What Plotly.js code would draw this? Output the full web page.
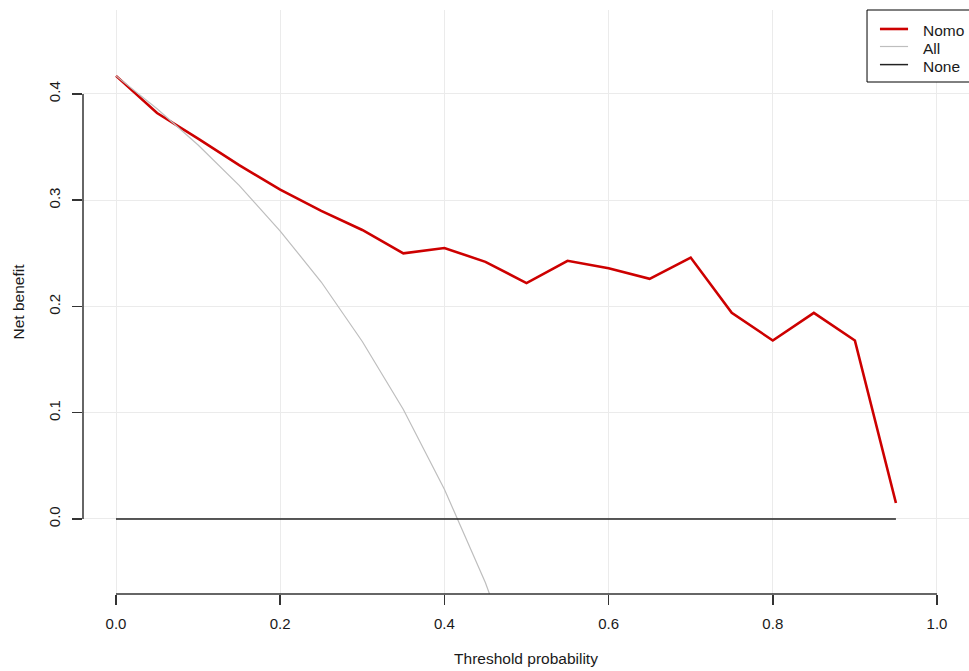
<!DOCTYPE html>
<html>
<head>
<meta charset="utf-8">
<script src="https://cdn.plot.ly/plotly-3.0.1.min.js"></script>
<style>html,body{margin:0;padding:0;background:#fff;overflow:hidden;}#chart{width:969px;height:671px;}</style>
</head>
<body>
<div id="chart"></div>
<script>
// Threshold probabilities
var thresholds = [0, 0.05, 0.1, 0.15, 0.2, 0.25, 0.3, 0.35, 0.4, 0.45, 0.5, 0.55, 0.6, 0.65, 0.7, 0.75, 0.8, 0.85, 0.9, 0.95];
// Net benefit of the nomogram model
var nomoNB = [0.417, 0.382, 0.358, 0.333, 0.310, 0.290, 0.272, 0.250, 0.255, 0.242, 0.222, 0.243, 0.236, 0.226, 0.246, 0.194, 0.168, 0.194, 0.168, 0.015];
// Net benefit of treating all
var allThresholds = [0, 0.05, 0.1, 0.15, 0.2, 0.25, 0.3, 0.35, 0.4, 0.45, 0.5];
var allNB = [0.417, 0.386, 0.352, 0.314, 0.271, 0.223, 0.167, 0.103, 0.028, -0.060, -0.166];
// Net benefit of treating none
var noneThresholds = [0, 0.95];
var noneNB = [0, 0];

var xTicks = [0, 0.2, 0.4, 0.6, 0.8, 1.0];
var xTickLabels = ['0.0', '0.2', '0.4', '0.6', '0.8', '1.0'];
var yTicks = [0, 0.1, 0.2, 0.3, 0.4];
var yTickLabels = ['0.0', '0.1', '0.2', '0.3', '0.4'];
var seriesNames = ['Nomo', 'All', 'None'];

var FONT = 'Liberation Sans, Arial, sans-serif';
var TXT = '#1a1a1a';
var styles = [
  {color: '#cd0000', width: 2.6},
  {color: '#bebebe', width: 1.2},
  {color: '#222222', width: 1.5}
];

var traces = [
  {x: thresholds, y: nomoNB, type: 'scatter', mode: 'lines', name: seriesNames[0], line: styles[0]},
  {x: allThresholds, y: allNB, type: 'scatter', mode: 'lines', name: seriesNames[1], line: styles[1]},
  {x: noneThresholds, y: noneNB, type: 'scatter', mode: 'lines', name: seriesNames[2], line: styles[2]}
];

// Manual R-style legend (box cut off at right edge like the original)
var legendShapes = [
  {type: 'rect', xref: 'paper', yref: 'paper', x0: 0.8849, x1: 1.05, y0: 0.8767, y1: 1.0,
   line: {color: '#000000', width: 1}, fillcolor: '#ffffff', layer: 'above'}
];
var legendAnnots = [];
var itemY = [0.9675, 0.9375, 0.9065];
for (var i = 0; i < seriesNames.length; i++) {
  legendShapes.push({type: 'line', xref: 'paper', yref: 'paper', x0: 0.8995, x1: 0.9312, y0: itemY[i], y1: itemY[i],
    line: {color: styles[i].color, width: styles[i].width}, layer: 'above'});
  legendAnnots.push({xref: 'paper', yref: 'paper', x: 0.9458, y: itemY[i] - 0.003, xanchor: 'left', yanchor: 'middle',
    text: seriesNames[i], showarrow: false, font: {family: FONT, size: 15.5, color: TXT}});
}

var layout = {
  width: 969, height: 671,
  margin: {l: 83, r: 0, t: 10, b: 77},
  paper_bgcolor: '#ffffff', plot_bgcolor: '#ffffff',
  font: {family: FONT, size: 15, color: TXT},
  showlegend: false,
  xaxis: {
    range: [-0.0402, 1.039], autorange: false,
    tickvals: xTicks, ticktext: xTickLabels,
    showgrid: true, gridcolor: '#ebebeb', gridwidth: 1,
    zeroline: false, showline: false,
    ticks: 'outside', ticklen: 10, tickwidth: 1.5, tickcolor: '#333333',
    ticklabelstandoff: 6,
    tickfont: {family: FONT, size: 15, color: TXT},
    title: {text: 'Threshold probability', font: {family: FONT, size: 15.5, color: TXT}, standoff: 22},
    automargin: false
  },
  yaxis: {
    range: [-0.0706, 0.479], autorange: false,
    tickvals: yTicks, ticktext: yTickLabels, tickangle: -90,
    showgrid: true, gridcolor: '#ebebeb', gridwidth: 1,
    zeroline: false, showline: false,
    ticks: 'outside', ticklen: 10, tickwidth: 1.5, tickcolor: '#333333',
    ticklabelstandoff: 6,
    tickfont: {family: FONT, size: 15, color: TXT},
    title: {text: 'Net benefit', font: {family: FONT, size: 15.5, color: TXT}, standoff: 17},
    automargin: false
  },
  shapes: [
    {type: 'line', xref: 'x', yref: 'paper', x0: xTicks[0], x1: xTicks[xTicks.length - 1], y0: 0, y1: 0,
     line: {color: '#333333', width: 1.5}},
    {type: 'line', xref: 'paper', yref: 'y', x0: 0, x1: 0, y0: yTicks[0], y1: yTicks[yTicks.length - 1],
     line: {color: '#333333', width: 1.5}}
  ].concat(legendShapes),
  annotations: legendAnnots
};

Plotly.newPlot('chart', traces, layout, {displayModeBar: false, staticPlot: true});
</script>
</body>
</html>
